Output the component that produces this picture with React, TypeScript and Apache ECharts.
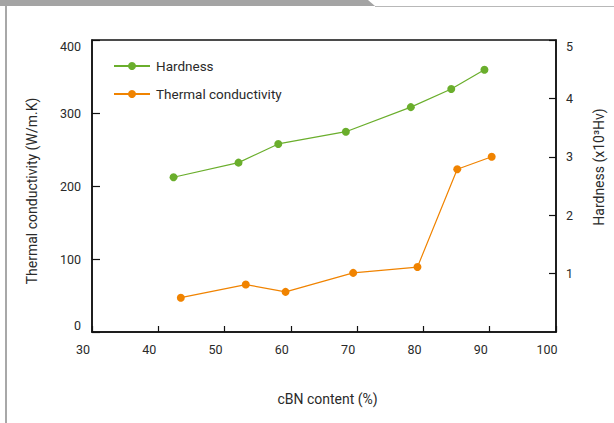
import React, { useEffect, useRef } from "react";
import * as echarts from "echarts";

const hardnessContent = [42.3, 52.1, 58.1, 68.3, 78.1, 84.2, 89.2];
const hardnessValues = [2.65, 2.9, 3.22, 3.43, 3.85, 4.16, 4.49];
const thermalContent = [43.4, 53.2, 59.2, 69.4, 79.1, 85.1, 90.3];
const thermalValues = [47, 65, 55, 81, 89, 223, 240];

const xAxisName = "cBN content (%)";
const leftAxisName = "Thermal conductivity (W/m.K)";
const rightAxisName = "Hardness (x10³Hv)";
const seriesNames = ["Hardness", "Thermal conductivity"];

const GREEN = "#6aae2c";
const ORANGE = "#f08300";
const FONT = "Roboto";
const TEXT = "#2a2a2a";

export default function App() {
  const ref = useRef<HTMLDivElement>(null);
  useEffect(() => {
    if (!ref.current) return;
    const chart = echarts.init(ref.current, undefined, { renderer: "svg" });
    const axisLine = { show: true, lineStyle: { color: "#111", width: 1.5 } };
    chart.setOption({
      animation: false,
      backgroundColor: "#fff",
      textStyle: { fontFamily: FONT },
      graphic: [
        {
          type: "polygon",
          shape: { points: [[0, 0], [368, 0], [375, 6], [0, 6]] },
          style: { fill: "#a4a4a4" },
        },
        {
          type: "line",
          shape: { x1: 375, y1: 6.5, x2: 614, y2: 6.5 },
          style: { stroke: "#b8b8b8", lineWidth: 1 },
        },
        {
          type: "line",
          shape: { x1: 6, y1: 6, x2: 6, y2: 423 },
          style: { stroke: "#a8a8a8", lineWidth: 2 },
        },
      ],
      legend: {
        orient: "vertical",
        left: 108,
        top: 54,
        itemWidth: 36,
        itemHeight: 10,
        itemGap: 14,
        textStyle: { fontFamily: FONT, fontSize: 13.5, color: TEXT, padding: [0, 0, 0, 1] },
        data: seriesNames,
      },
      grid: {
        left: 92,
        right: 55,
        top: 40,
        bottom: 91,
        show: true,
        borderColor: "#111",
        borderWidth: 1.5,
      },
      xAxis: {
        type: "value",
        min: 30,
        max: 100,
        interval: 10,
        name: xAxisName,
        nameLocation: "middle",
        nameGap: 60,
        nameTextStyle: { fontFamily: FONT, fontSize: 14, color: TEXT, padding: [0, 0, 0, 7] },
        axisLine,
        axisTick: { show: true, inside: true, length: 6, lineStyle: { color: "#111", width: 1.2 } },
        axisLabel: {
          fontFamily: FONT,
          fontSize: 12.5,
          color: TEXT,
          margin: 11,
          padding: [0, 18, 0, 0],
        },
        splitLine: { show: false },
      },
      yAxis: [
        {
          type: "value",
          min: 0,
          max: 400,
          interval: 100,
          position: "left",
          name: leftAxisName,
          nameLocation: "middle",
          nameGap: 53,
          nameTextStyle: { fontFamily: FONT, fontSize: 14, color: TEXT, padding: [0, 10, 0, 0] },
          axisLine,
          axisTick: { show: true, inside: true, length: 8, lineStyle: { color: "#111", width: 1.2 } },
          axisLabel: {
            fontFamily: FONT,
            fontSize: 12.5,
            color: TEXT,
            margin: 11,
            verticalAlignMinLabel: "bottom",
            verticalAlignMaxLabel: "top",
          },
          splitLine: { show: false },
        },
        {
          type: "value",
          min: 0,
          max: 5,
          interval: 1,
          position: "right",
          name: rightAxisName,
          nameLocation: "middle",
          nameGap: 36,
          nameTextStyle: { fontFamily: FONT, fontSize: 14, color: TEXT, padding: [0, 0, 0, 38] },
          axisLine,
          axisTick: { show: true, inside: true, length: 7, lineStyle: { color: "#111", width: 1.2 } },
          axisLabel: {
            fontFamily: FONT,
            fontSize: 12.5,
            color: TEXT,
            margin: 10,
            showMinLabel: false,
            verticalAlignMaxLabel: "top",
          },
          splitLine: { show: false },
        },
      ],
      series: [
        {
          name: seriesNames[0],
          type: "line",
          yAxisIndex: 1,
          data: hardnessContent.map((x, i) => [x, hardnessValues[i]]),
          symbol: "circle",
          symbolSize: 8,
          itemStyle: { color: GREEN },
          lineStyle: { color: GREEN, width: 1.2 },
        },
        {
          name: seriesNames[1],
          type: "line",
          yAxisIndex: 0,
          data: thermalContent.map((x, i) => [x, thermalValues[i]]),
          symbol: "circle",
          symbolSize: 8,
          itemStyle: { color: ORANGE },
          lineStyle: { color: ORANGE, width: 1.2 },
        },
      ],
    });
    return () => chart.dispose();
  }, []);
  return (
    <div
      ref={ref}
      style={{ position: "fixed", left: 0, top: 0, width: 614, height: 423 }}
    />
  );
}
